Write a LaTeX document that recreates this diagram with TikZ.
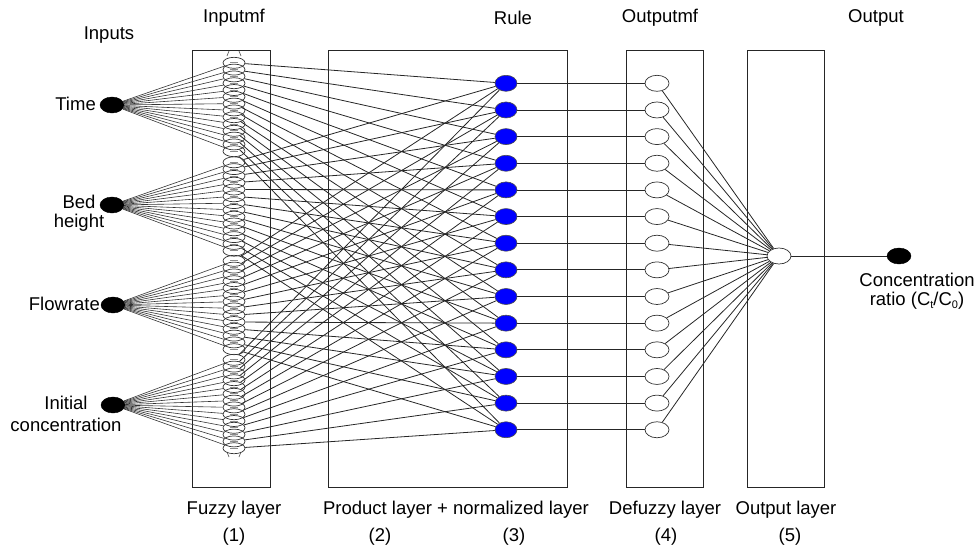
\documentclass[tikz,border=0pt]{standalone}
\usepackage{fontspec}
\setmainfont{Liberation Sans}
\usetikzlibrary{shapes.geometric}
\pgfdeclarelayer{bg}
\pgfsetlayers{bg,main}
\begin{document}
\begin{tikzpicture}[x=1pt,y=-1pt,
  lbl/.style={font=\fontsize{18.5}{20}\selectfont, inner sep=0pt, align=center},
  layerbox/.style={draw=black!85, line width=1pt},
  conn/.style={draw=black!85, line width=0.8pt},
  fan/.style={draw=black!80, line width=0.6pt},
  innode/.style={ellipse, fill=black, draw=black, minimum width=24pt, minimum height=16pt, inner sep=0pt},
  mfnode/.style={ellipse, draw=black!80, line width=0.7pt, minimum width=22pt, minimum height=11pt, inner sep=0pt},
  mfmark/.style={draw=black!45, line width=0.8pt},
  rulenode/.style={ellipse, fill=blue, draw=black!70, line width=0.6pt, minimum width=22pt, minimum height=16pt, inner sep=0pt},
  omfnode/.style={ellipse, fill=white, draw=black!80, line width=0.7pt, minimum width=24pt, minimum height=16pt, inner sep=0pt}]

\useasboundingbox (0,0) rectangle (976,547);

% input nodes
\node[innode] (in-1) at (112,105) {};
\node[innode] (in-2) at (112,205) {};
\node[innode] (in-3) at (113,305) {};
\node[innode] (in-4) at (113,405) {};

% membership function ellipses
\foreach \k/\c in {1/107,2/206.5,3/305,4/404} {
  \foreach \j in {1,...,14} {
    \node[mfnode] (mf-\k-\j) at (234,{\c+(\j-7.5)*6.8}) {};
    \draw[mfmark] ([xshift=-4pt]mf-\k-\j.center) -- ([xshift=4pt]mf-\k-\j.center);
  }
}
% small end ticks of the column
\draw[black!70, line width=0.6pt] (227,56) -- (229,51);
\draw[black!70, line width=0.6pt] (241,56) -- (239,51);
\draw[black!70, line width=0.6pt] (227,452) -- (229,457);
\draw[black!70, line width=0.6pt] (241,452) -- (239,457);

% rule, output mf nodes
\foreach \j in {1,...,14} {
  \node[rulenode] (r-\j) at (506,{83.3+(\j-1)*26.65}) {};
  \node[omfnode] (o-\j) at (657,{83.3+(\j-1)*26.65}) {};
}
\node[omfnode] (out) at (779,256) {};
\node[innode] (fin) at (899,256) {};

\begin{pgfonlayer}{bg}
  \draw[layerbox] (192,50) rectangle (270,487);
  \draw[layerbox] (328,50) rectangle (567,487);
  \draw[layerbox] (626,50) rectangle (703,487);
  \draw[layerbox] (747,50) rectangle (824,487);
  \foreach \k in {1,...,4} {
    \foreach \j in {1,...,14} {
      \draw[fan] (in-\k) -- (mf-\k-\j);
      \draw[conn] (mf-\k-\j) -- (r-\j);
    }
  }
  \foreach \j in {1,...,14} {
    \draw[conn] (r-\j) -- (o-\j);
    \draw[conn] (o-\j) -- (out);
  }
  \draw[conn] (out) -- (fin);
\end{pgfonlayer}

% labels
\node[lbl] (tInputs) at (109,35) {Inputs};
\node[lbl] (tInputmf) at (234,18) {Inputmf};
\node[lbl] (tRule) at (513,18) {Rule};
\node[lbl] (tOutputmf) at (660,18) {Outputmf};
\node[lbl] (tOutput) at (876,18) {Output};

\node[lbl, anchor=east] (tTime) at (96,104) {Time};
\node[lbl, font=\fontsize{18.5}{19.5}\selectfont] (tBed) at (79,213) {Bed\\height};
\node[lbl, anchor=east] (tFlow) at (100,304) {Flowrate};
\node[lbl, font=\fontsize{18.5}{21.5}\selectfont] (tInit) at (66,414) {Initial\\concentration};
\node[lbl, font=\fontsize{18.5}{19}\selectfont] (tConc) at (917,291) {Concentration\\ratio (C\raisebox{-0.3ex}{\fontsize{11}{11}\selectfont t}/C\raisebox{-0.3ex}{\fontsize{11}{11}\selectfont 0})};

\node[lbl] (b1) at (234,510) {Fuzzy layer};
\node[lbl] (b2) at (456,510) {Product layer + normalized layer};
\node[lbl] (b3) at (665,510) {Defuzzy layer};
\node[lbl] (b4) at (786,510) {Output layer};
\node[lbl] (n1) at (234,537) {(1)};
\node[lbl] (n2) at (380,537) {(2)};
\node[lbl] (n3) at (514,537) {(3)};
\node[lbl] (n4) at (666,537) {(4)};
\node[lbl] (n5) at (790,537) {(5)};
\end{tikzpicture}
\end{document}
